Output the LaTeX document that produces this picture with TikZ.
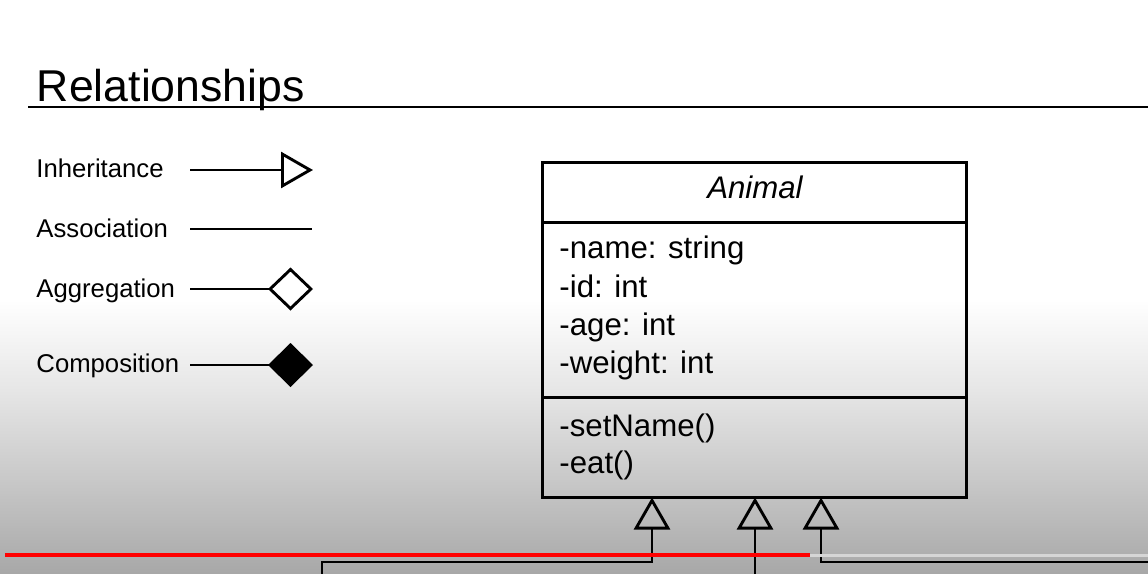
\documentclass[tikz,border=0pt]{standalone}
\usepackage{fontspec}
\setmainfont{Liberation Sans}
\usetikzlibrary{arrows.meta}
\definecolor{bgA}{HTML}{E6E6E6}
\definecolor{bgB}{HTML}{C8C8C8}
\definecolor{bgC}{HTML}{A8A8A8}
\definecolor{ytred}{HTML}{FF0000}
\definecolor{ytgray}{HTML}{D6D6D6}
\begin{document}
\begin{tikzpicture}[x=1pt,y=-1pt,line width=2.9pt,
  legendtext/.style={anchor=base west,inner sep=0pt,font=\fontsize{25.7}{30}\selectfont},
  attrtext/.style={anchor=base west,inner sep=0pt,font=\fontsize{31.2}{36}\selectfont},
  inh/.style={-{Triangle[open,length=32pt,width=36pt]}},
  aggr/.style={-{Diamond[open,length=45pt,width=43pt]}},
  comp/.style={-{Diamond[fill=black,length=45pt,width=44pt]}}]
\useasboundingbox (0,0) rectangle (1148,573);
% background (video frame gradient)
\fill[white] (0,0) rectangle (1148,300);
\shade[top color=white,bottom color=bgA] (0,299.5) rectangle (1148,390.5);
\shade[top color=bgA,bottom color=bgB] (0,390) rectangle (1148,480.5);
\shade[top color=bgB,bottom color=bgC] (0,480) rectangle (1148,573);
% title
\node[anchor=base west,inner sep=0pt,font=\fontsize{44.6}{50}\selectfont] (title) at (35.5,101) {Relationships};
\coordinate (ruleL) at (28,107);
\coordinate (ruleR) at (1148,107);
\draw[line width=2.8pt] (ruleL) -- (ruleR);
% legend
\node[legendtext] (linh) at (35,177) {Inheritance};
\node[legendtext] (lass) at (35,237) {Association};
\node[legendtext] (lagg) at (35,297) {Aggregation};
\node[legendtext] (lcom) at (35,372) {Composition};
\coordinate (inhS) at (190,170); \coordinate (inhE) at (313,170);
\coordinate (assS) at (190,229); \coordinate (assE) at (312,229);
\coordinate (aggS) at (190,289); \coordinate (aggE) at (313,289);
\coordinate (comS) at (190,365); \coordinate (comE) at (313,365);
\draw[inh] (inhS) -- (inhE);
\draw (assS) -- (assE);
\draw[aggr] (aggS) -- (aggE);
\draw[comp] (comS) -- (comE);
% class box
\node[draw,line width=3pt,anchor=north west,inner sep=0pt,minimum width=424pt,minimum height=335pt] (animal) at (541,160.5) {};
\draw[line width=3pt] (animal.west |- 0,222) -- (animal.east |- 0,222);
\draw[line width=3pt] (animal.west |- 0,397.5) -- (animal.east |- 0,397.5);
\node[anchor=base,inner sep=0pt,font=\fontsize{31.2}{36}\selectfont\itshape] (cname) at (755,198) {Animal};
\node[attrtext] (a1) at (558,258) {-name: string};
\node[attrtext] (a2) at (558,297) {-id: int};
\node[attrtext] (a3) at (558,335) {-age: int};
\node[attrtext] (a4) at (558,373) {-weight: int};
\node[attrtext] (m1) at (558,436) {-setName()};
\node[attrtext] (m2) at (558,473) {-eat()};
% inheritance connectors from subclasses (below frame)
\coordinate (t1) at (652,497.5);
\coordinate (t2) at (755,497.5);
\coordinate (t3) at (821,497.5);
\coordinate (s1) at (322,576);
\coordinate (k1) at (322,562);
\coordinate (s2) at (755,576);
\coordinate (s3) at (1150,562);
\draw[inh] (s1) -- (k1) -- (k1 -| t1) -- (t1);
\draw[inh] (s2) -- (t2);
\draw[inh] (s3) -- (s3 -| t3) -- (t3);
% video progress bar
\fill[ytgray] (810,553.5) rectangle (1148,556.5);
\fill[ytred] (5,553) rectangle (810,557);
\end{tikzpicture}
\end{document}
